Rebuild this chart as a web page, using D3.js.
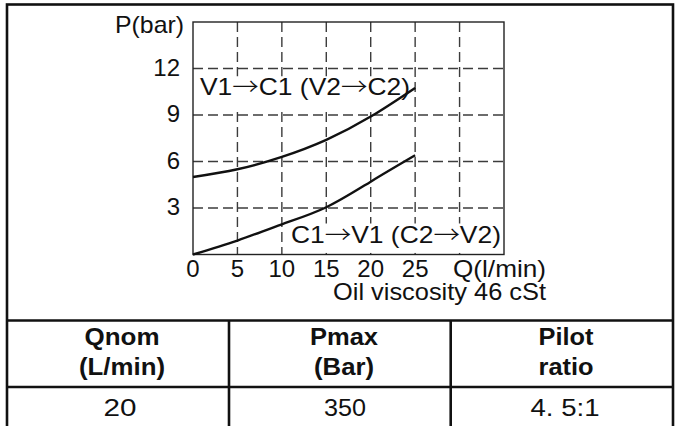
<!DOCTYPE html>
<html>
<head>
<meta charset="utf-8">
<script src="https://cdn.jsdelivr.net/npm/d3@7/dist/d3.min.js"></script>
<style>
  html, body { margin: 0; padding: 0; background: #fff; }
  svg { display: block; }
  text { font-family: "Liberation Sans", Arial, sans-serif; fill: #111; }
</style>
</head>
<body>
<svg id="chart" width="675" height="426"></svg>
<script>
// ---- data ----
const flowQ = [0, 5, 10, 15, 20, 25];                       // Q (l/min)
const pressV1C1 = [5.0, 5.5, 6.3, 7.4, 8.9, 10.75];          // V1→C1 (V2→C2), bar
const pressC1V1 = [0.0, 0.9, 1.95, 3.05, 4.7, 6.4];          // C1→V1 (C2→V2), bar
const xTicks = [0, 5, 10, 15, 20, 25];
const xGrid = [5, 10, 15, 20, 25, 30];
const yTicks = [3, 6, 9, 12];
const seriesNames = ["V1→C1 (V2→C2)", "C1→V1 (C2→V2)"];
const tableHeaders = [["Qnom", "(L/min)"], ["Pmax", "(Bar)"], ["Pilot", "ratio"]];
const tableValues = ["20", "350", "4. 5:1"];

const svg = d3.select("#chart");

// plot geometry
const x = d3.scaleLinear().domain([0, 35]).range([193, 504]);
const y = d3.scaleLinear().domain([0, 15]).range([254.5, 22]);

const ink = "#111";
const gridCol = "#3c3c3c";

// grid
const g = svg.append("g");
g.selectAll("line.vg").data(xGrid).enter().append("line")
  .attr("x1", d => x(d)).attr("x2", d => x(d))
  .attr("y1", y(15)).attr("y2", y(0))
  .attr("stroke", gridCol).attr("stroke-width", 1.4).attr("stroke-dasharray", "10,5");
g.selectAll("line.hg").data(yTicks).enter().append("line")
  .attr("y1", d => y(d)).attr("y2", d => y(d))
  .attr("x1", x(0)).attr("x2", x(35))
  .attr("stroke", gridCol).attr("stroke-width", 1.4).attr("stroke-dasharray", "10,5");

// white label boxes
svg.append("rect").attr("x", x(0) + 2).attr("y", y(11.5)).attr("width", x(24.8) - x(0) - 2).attr("height", y(9.3) - y(11.5)).attr("fill", "#fff");
svg.append("rect").attr("x", x(11)).attr("y", y(2.0)).attr("width", x(35) - x(11) - 1).attr("height", y(0.1) - y(2.0)).attr("fill", "#fff");

// frame
svg.append("rect").attr("x", x(0)).attr("y", y(15)).attr("width", x(35) - x(0)).attr("height", y(0) - y(15))
  .attr("fill", "none").attr("stroke", "#222").attr("stroke-width", 1.4);

// curves
const line = d3.line().x(d => x(d[0])).y(d => y(d[1])).curve(d3.curveNatural);
[pressV1C1, pressC1V1].forEach(vals => {
  svg.append("path").datum(flowQ.map((q, i) => [q, vals[i]]))
    .attr("d", line).attr("fill", "none").attr("stroke", ink).attr("stroke-width", 2.4);
});

// axis tick labels
const fs = 24;
svg.selectAll("text.yt").data(yTicks).enter().append("text")
  .attr("x", 180).attr("y", d => y(d) + 7).attr("text-anchor", "end")
  .attr("font-size", fs).text(d => d);
svg.append("text").attr("x", 184).attr("y", 33).attr("text-anchor", "end").attr("font-size", fs)
  .attr("textLength", 69).attr("lengthAdjust", "spacingAndGlyphs").text("P(bar)");
svg.selectAll("text.xt").data(xTicks).enter().append("text")
  .attr("x", d => x(d)).attr("y", 277).attr("text-anchor", "middle")
  .attr("font-size", fs).text(d => d);
svg.append("text").attr("x", 453).attr("y", 277).attr("font-size", fs)
  .attr("textLength", 93).attr("lengthAdjust", "spacingAndGlyphs").text("Q(l/min)");
svg.append("text").attr("x", 333).attr("y", 300).attr("font-size", fs)
  .attr("textLength", 213).attr("lengthAdjust", "spacingAndGlyphs").text("Oil viscosity 46 cSt");

// series labels (arrows rendered with a full-width CJK glyph)
function seriesLabel(sx, sy, str) {
  const t = svg.append("text").attr("x", sx).attr("y", sy).attr("font-size", fs)
    .attr("textLength", 210).attr("lengthAdjust", "spacingAndGlyphs");
  str.split(/(→)/).forEach(part => {
    if (!part) return;
    const ts = t.append("tspan").text(part);
    if (part === "→") ts.style("font-family", "'Noto Sans CJK JP', 'Noto Sans CJK SC', sans-serif").attr("font-weight", 300);
  });
}
seriesLabel(200, 95, seriesNames[0]);
seriesLabel(291, 243, seriesNames[1]);

// outer frame & table
const lw = 2.6;
svg.append("rect").attr("x", 7).attr("y", 4.5).attr("width", 666).attr("height", 440)
  .attr("fill", "none").attr("stroke", ink).attr("stroke-width", lw);
svg.append("line").attr("x1", 7).attr("x2", 673).attr("y1", 320.5).attr("y2", 320.5).attr("stroke", ink).attr("stroke-width", lw);
svg.append("line").attr("x1", 7).attr("x2", 673).attr("y1", 387).attr("y2", 387).attr("stroke", ink).attr("stroke-width", lw);
const colEdges = [7, 229, 450.7, 673];
[colEdges[1], colEdges[2]].forEach(cx => {
  svg.append("line").attr("x1", cx).attr("x2", cx).attr("y1", 320.5).attr("y2", 430).attr("stroke", ink).attr("stroke-width", lw);
});
const centers = [122, 344, 566];
const hdrW = [[75, 86], [68, 60], [55, 55]];
tableHeaders.forEach((h, i) => {
  [0, 1].forEach(j => {
    svg.append("text").attr("x", centers[i]).attr("y", j === 0 ? 345 : 375)
      .attr("text-anchor", "middle").attr("font-size", 23).attr("font-weight", "bold")
      .attr("textLength", hdrW[i][j]).attr("lengthAdjust", "spacingAndGlyphs")
      .text(h[j]);
  });
});
const valW = [33, 42, 69];
const valC = [120, 345, 565];
tableValues.forEach((v, i) => {
  svg.append("text").attr("x", valC[i]).attr("y", 416).attr("text-anchor", "middle")
    .attr("font-size", 23).attr("font-family", "Roboto, 'Liberation Sans', sans-serif").attr("font-weight", 300)
    .attr("textLength", valW[i]).attr("lengthAdjust", "spacingAndGlyphs")
    .text(v);
});
</script>
</body>
</html>
